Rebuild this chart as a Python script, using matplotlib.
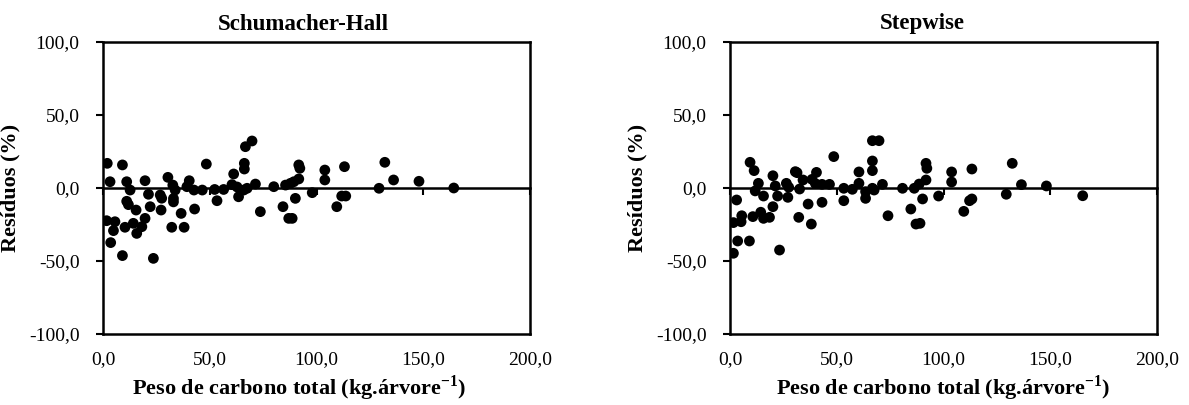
import matplotlib
matplotlib.use("Agg")
import matplotlib.pyplot as plt
from matplotlib.ticker import FuncFormatter

plt.rcParams['font.family'] = ['Liberation Serif', 'DejaVu Serif']
plt.rcParams['mathtext.fontset'] = 'custom'
plt.rcParams['mathtext.rm'] = 'Liberation Serif'
plt.rcParams['mathtext.bf'] = 'Liberation Serif:bold'
plt.rcParams['axes.unicode_minus'] = False

# Residuals (%) against total carbon weight (kg per tree)
sh_peso = [2.0, 9.1, 3.3, 11.1, 19.7, 12.7, 30.4, 48.4, 40.4, 39.3, 42.6, 46.5,
           52.3, 56.5, 61.2, 66.7, 69.8, 66.2, 66.2, 60.4, 62.8, 65.9, 67.5, 63.5,
           71.4, 73.7, 21.3, 26.8, 27.5, 11.1, 11.9, 15.5, 22.1, 27.2, 19.7, 14.2,
           18.2, 15.8, 10.3, 1.7, 5.6, 4.9, 3.6, 9.1, 23.6, 32.2, 38.0, 36.6, 42.9,
           53.4, 32.7, 33.8, 33.0, 33.0, 80.0, 85.5, 87.8, 89.4, 91.7, 92.2, 91.7,
           90.1, 84.3, 87.0, 88.6, 98.0, 103.9, 103.9, 113.1, 111.8, 113.7, 109.5,
           129.3, 132.0, 136.1, 148.0, 164.3]
sh_res = [16.9, 15.8, 4.3, 4.3, 5.0, -1.4, 7.3, 16.4, 5.0, 0.9, -1.4, -1.4,
          -1.0, -1.0, 9.6, 28.3, 32.2, 16.9, 13.0, 2.3, 0.7, -1.4, -0.2, -6.0,
          2.7, -16.2, -4.3, -4.8, -7.0, -9.1, -11.4, -15.1, -12.8, -15.1, -20.8, -24.2,
          -26.5, -31.1, -26.9, -22.4, -23.1, -29.2, -37.4, -46.3, -48.2, -26.9, -26.9, -17.4, -14.4,
          -8.7, 2.0, -1.4, -7.2, -9.5, 0.9, 2.0, 3.2, 4.3, 15.8, 13.5, 6.2,
          -7.1, -12.8, -20.8, -20.8, -3.2, 12.3, 5.5, 14.6, -5.5, -5.5, -12.8,
          -0.2, 17.6, 5.5, 4.6, 0.0]

sw_peso = [1.6, 3.1, 1.6, 5.2, 5.5, 3.6, 9.1, 9.4, 11.3, 13.3, 11.8, 15.7,
           10.7, 14.4, 15.7, 18.5, 20.1, 21.2, 22.3, 20.1, 23.2, 26.4, 27.5, 27.1,
           30.6, 31.4, 32.6, 34.2, 32.2, 36.6, 38.1, 38.4, 40.5, 40.0, 43.1, 43.1,
           46.6, 48.6, 53.3, 53.3, 57.3, 60.4, 60.4, 63.5, 63.5, 66.7, 69.8, 66.7,
           66.7, 66.7, 67.5, 71.4, 74.0, 80.8, 84.7, 86.3, 88.6, 90.2, 91.8, 92.2,
           91.8, 87.1, 89.0, 97.7, 103.8, 103.8, 109.5, 112.2, 113.3, 113.3, 129.4,
           132.2, 136.5, 148.2, 165.2]
sw_res = [-44.7, -8.2, -23.7, -23.1, -19.0, -36.3, -36.3, 17.6, 11.9, 3.2, -2.0, -5.5,
          -19.6, -16.6, -20.8, -20.1, 8.4, 1.4, -5.5, -12.8, -42.5, 3.2, 0.5, -6.4,
          11.2, 10.5, -0.7, 5.5, -20.1, -11.0, -24.7, 5.9, 10.7, 3.0, 2.5, -9.8,
          2.5, 21.5, -0.2, -8.7, -0.9, 11.0, 3.2, -2.5, -7.1, 32.4, 32.4, 18.5,
          11.9, -0.2, -1.4, 2.5, -19.0, -0.2, -14.4, -0.2, 2.7, -7.5, 16.9, 13.5,
          5.5, -24.7, -24.2, -5.5, 11.0, 4.1, -16.0, -8.7, -7.5, 13.0, -4.3,
          16.9, 2.3, 1.4, -5.3]

panels = [("Schumacher-Hall", sh_peso, sh_res),
          ("Stepwise", sw_peso, sw_res)]
x_ticks = [0, 50, 100, 150, 200]
y_ticks = [-100, -50, 0, 50, 100]

comma = FuncFormatter(lambda v, pos: f"{v:.1f}".replace(".", ","))

fig = plt.figure(figsize=(11.89, 4.05), dpi=100)
lefts = [103 / 1189, 730 / 1189]
title_x = [0.47, 0.45]
xlabel_x = [0.46, 0.5]
w = 427 / 1189
b = 1 - 334 / 405
h = (334 - 42) / 405

for (title, xs, ys), l, tx, lx in zip(panels, lefts, title_x, xlabel_x):
    ax = fig.add_axes([l, b, w, h])
    ax.scatter(xs, ys, s=60, color='black', edgecolors='none', zorder=3)
    ax.set_xlim(0, 200)
    ax.set_ylim(-100, 100)
    ax.set_xticks(x_ticks)
    ax.set_yticks(y_ticks)
    ax.xaxis.set_major_formatter(comma)
    ax.yaxis.set_major_formatter(comma)
    for s in ax.spines.values():
        s.set_linewidth(1.8)
        s.set_color('black')
    ax.tick_params(axis='x', length=0, pad=12, labelsize=14)
    ax.tick_params(axis='y', direction='out', length=5, width=1.5,
                   pad=12, labelsize=14)
    # horizontal axis crossing at zero, with its own tick marks
    zero = ax.secondary_xaxis(0.5)
    zero.set_alignment('bottom')
    zero.set_xticks(x_ticks)
    zero.spines['bottom'].set_linewidth(1.8)
    zero.tick_params(axis='x', direction='out', length=5, width=1.5,
                     labelbottom=False, labeltop=False)
    ax.set_title(title, fontsize=16.5, fontweight='bold', x=tx, pad=9)
    ax.set_xlabel("Peso de carbono total (kg.árvore$^{\\mathbf{-1}}$)",
                  fontsize=16, fontweight='bold', labelpad=4, x=lx)
    ax.set_ylabel("Resíduos (%)", fontsize=16, fontweight='bold', labelpad=6)

fig.savefig("out.png", dpi=100, facecolor='white')
